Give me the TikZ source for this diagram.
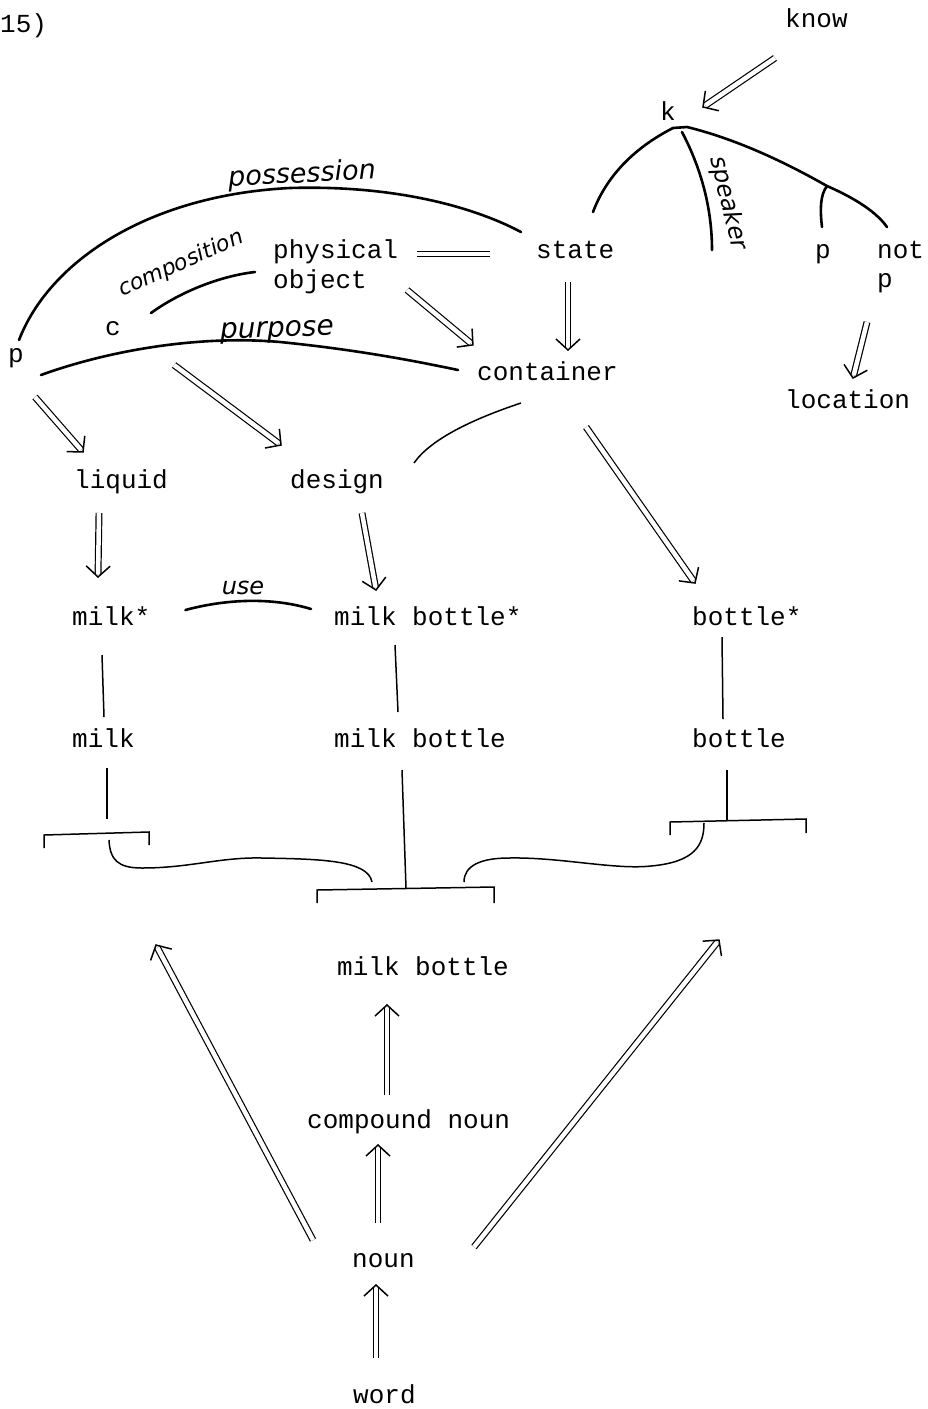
\documentclass[tikz,border=0pt]{standalone}
\usepackage{fontspec}
\setmonofont{Liberation Mono}
\newfontfamily\handfont{DejaVu Sans}
\usetikzlibrary{decorations.markings}

\begin{document}
\begin{tikzpicture}[x=1pt, y=-1pt,
    txt/.style={font=\fontsize{26}{29}\selectfont\ttfamily, inner sep=0pt, anchor=base west},
    hand/.style={font=\fontsize{24}{24}\selectfont\handfont\itshape, inner sep=0pt},
    isa/.style={double, double distance=4.5pt, line width=1.2pt, shorten >=3pt,
      decoration={markings, mark=at position 1 with {\draw[line width=1.5pt, line join=miter, shorten >=0pt, shorten <=0pt] (-11pt,12pt) -- (0pt,0pt) -- (-11pt,-12pt);}},
      postaction={decorate}},
    link/.style={line width=1.5pt},
    rel/.style={line width=2.6pt, line cap=round}]
  \useasboundingbox (0,0) rectangle (927,1409);

  \node[txt] (num) at (0,32) {15)};
  \node[txt] (know) at (785,27) {know};
  \node[txt] (k) at (660,120) {k};
  \node[txt] (phys) at (273,258) {physical};
  \node[txt] (obj) at (273,288) {object};
  \node[txt] (state) at (536,258) {state};
  \node[txt] (pk) at (815,258) {p};
  \node[txt] (not) at (877,258) {not};
  \node[txt] (notp) at (877,287) {p};
  \node[txt] (c) at (105,335) {c};
  \node[txt] (p) at (8,362) {p};
  \node[txt] (cont) at (477,380) {container};
  \node[txt] (loc) at (785,408) {location};
  \node[txt] (liquid) at (74,488) {liquid};
  \node[txt] (design) at (290,488) {design};
  \node[txt] (milks) at (72,625) {milk*};
  \node[txt] (mbs) at (334,625) {milk bottle*};
  \node[txt] (bots) at (692,625) {bottle*};
  \node[txt] (milk) at (72,747) {milk};
  \node[txt] (mb) at (334,747) {milk bottle};
  \node[txt] (bot) at (692,747) {bottle};
  \node[txt] (mbw) at (337,975) {milk bottle};
  \node[txt] (cn) at (307,1128) {compound noun};
  \node[txt] (noun) at (352,1267) {noun};
  \node[txt] (wd) at (353,1403) {word};

  \node[hand, rotate=3, font=\fontsize{27}{27}\selectfont\handfont\itshape] (poss) at (302,175) {possession};
  \node[hand, rotate=24, font=\fontsize{22}{22}\selectfont\handfont\itshape] (comp) at (181,264) {composition};
  \node[hand, rotate=2, font=\fontsize{28}{28}\selectfont\handfont\itshape] (purp) at (277,332) {purpose};
  \node[hand] (use) at (243,588) {use};
  \node[hand, rotate=-76] (spk) at (728,203) {speaker};

  \coordinate (apex) at ([shift={(13,8)}]k.base west);
  \coordinate (fork) at (827,186);
  \coordinate (sL) at (107,833);
  \coordinate (sM) at (406,888);
  \coordinate (sR) at (727,820);
  \coordinate (upL) at (156,945);
  \coordinate (upR) at (719,940);

  \draw[isa] ([shift={(-10,31)}]know.base west) -- ([shift={(43,-13)}]k.base west);
  \draw[double, double distance=4.5pt, line width=1.2pt] ([shift={(19,-4)}]phys.base east) -- ([shift={(-46,-4)}]state.base west);
  \draw[isa] ([shift={(40,2)}]obj.base east) -- ([shift={(-4,-35)}]cont.base west);
  \draw[isa] ([shift={(32,24)}]state.base west) -- ([shift={(91,-30)}]cont.base west);
  \draw[isa] ([shift={(27,35)}]p.base west) -- ([shift={(9,-36)}]liquid.base west);
  \draw[isa] ([shift={(166,3)}]p.base west) -- ([shift={(-9,-43)}]design.base west);
  \draw[isa] ([shift={(109,47)}]cont.base west) -- ([shift={(3,-42)}]bots.base west);
  \draw[isa] ([shift={(-10,35)}]notp.base west) -- ([shift={(68,-30)}]loc.base west);
  \draw[isa] ([shift={(25,25)}]liquid.base west) -- ([shift={(26,-48)}]milks.base west);
  \draw[isa] ([shift={(72,25)}]design.base west) -- ([shift={(42,-35)}]mbs.base west);
  \draw[isa] ([shift={(80,-33)}]cn.base west) -- ([shift={(50,30)}]mbw.base west);
  \draw[isa] ([shift={(26,-44)}]noun.base west) -- ([shift={(71,17)}]cn.base west);
  \draw[isa] ([shift={(23,-45)}]wd.base west) -- ([shift={(24,18)}]noun.base west);
  \draw[isa] ([shift={(-39,-27)}]noun.base west) -- (upL);
  \draw[isa] ([shift={(122,-20)}]noun.base west) -- (upR);

  \draw[rel] ([shift={(11,-22)}]p.base west) .. controls (50,260) and (150,195) .. (290,188) .. controls (390,185) and (470,205) .. ([shift={(-15,-26)}]state.base west);
  \draw[rel] ([shift={(46,-22)}]c.base west) .. controls (180,292) and (220,276) .. ([shift={(-18,14)}]phys.base west);
  \draw[rel] ([shift={(33,13)}]p.base west) .. controls (110,350) and (200,335) .. (280,342) .. controls (360,350) and (420,362) .. ([shift={(-19,-10)}]cont.base west);
  \draw[link] ([shift={(44,23)}]cont.base west) .. controls (470,420) and (430,440) .. ([shift={(30,-25)}]design.base east);
  \draw[rel] ([shift={(35,-15)}]milks.base east) .. controls (230,598) and (275,598) .. ([shift={(-23,-16)}]mbs.base west);

  \draw[rel] (apex) .. controls (630,150) and (605,180) .. ([shift={(57,-46)}]state.base west);
  \draw[rel] ([shift={(22,12)}]k.base west) .. controls (702,170) and (712,210) .. ([shift={(52,130)}]k.base west);
  \draw[rel] (apex) -- ++(14,-1) .. controls (740,140) and (790,165) .. (fork) .. controls (850,196) and (875,210) .. ([shift={(10,-31)}]not.base west);
  \draw[rel] (fork) .. controls (820,195) and (820,210) .. ([shift={(7,-31)}]pk.base west);

  \draw[link] ([shift={(30,30)}]milks.base west) -- ([shift={(32,-30)}]milk.base west);
  \draw[link] ([shift={(61,20)}]mbs.base west) -- ([shift={(64,-35)}]mb.base west);
  \draw[link] ([shift={(30,12)}]bots.base west) -- ([shift={(31,-28)}]bot.base west);

  \draw[link] (44,848) -- (44,835) -- (149,832) -- (149,845);
  \draw[link] (317,903) -- (317,890) -- (494,887) -- (494,903);
  \draw[link] (670,835) -- (670,822) -- (806,819) -- (806,833);
  \draw[link, shorten >=14pt] ([shift={(35,21)}]milk.base west) -- (sL);
  \draw[link] ([shift={(68,23)}]mb.base west) -- (sM);
  \draw[link] ([shift={(35,23)}]bot.base west) -- (sR);
  \draw[link] (109,840) .. controls (110,860) and (118,868) .. (142,868) .. controls (190,868) and (220,857) .. (262,858) .. controls (320,859) and (368,860) .. (372,882);
  \draw[link] (464,882) .. controls (464,866) and (480,858) .. (509,858) .. controls (560,857) and (615,870) .. (651,866) .. controls (695,862) and (704,845) .. (704,823);
\end{tikzpicture}
\end{document}
